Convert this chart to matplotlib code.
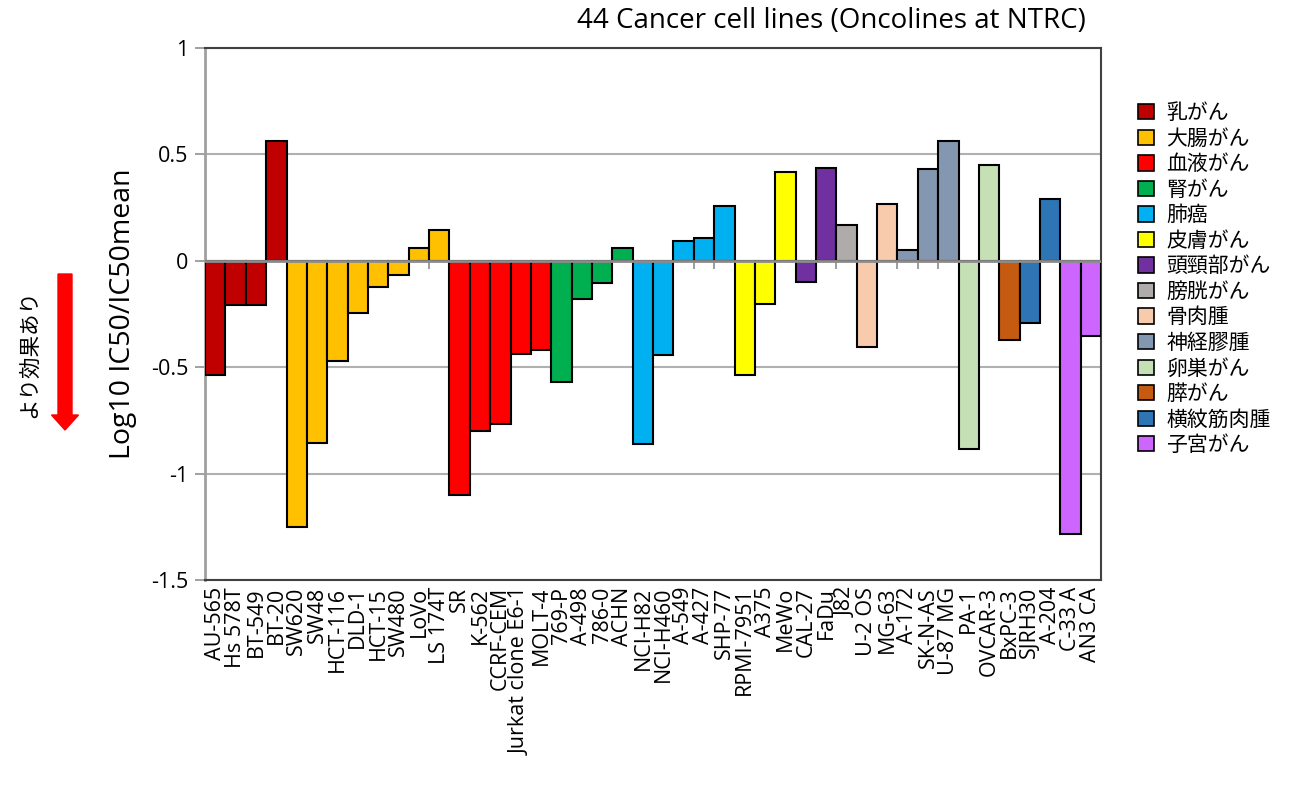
import numpy as np
import matplotlib
matplotlib.use('Agg')
import matplotlib.pyplot as plt
from matplotlib.patches import Patch, FancyArrow
from matplotlib.transforms import IdentityTransform

plt.rcParams['font.family'] = ['Open Sans', 'Noto Sans CJK JP', 'DejaVu Sans']
JP = ['Noto Sans CJK JP', 'DejaVu Sans']

# cancer types, colours, and how many cell lines each has (in plot order)
cancer_types = ['乳がん', '大腸がん', '血液がん', '腎がん', '肺癌', '皮膚がん', '頭頸部がん',
                '膀胱がん', '骨肉腫', '神経膠腫', '卵巣がん', '膵がん', '横紋筋肉腫', '子宮がん']
type_colors = ['#C00000', '#FFC000', '#FF0000', '#00B050', '#00B0F0', '#FFFF00', '#7030A0',
               '#AFABAB', '#F8CBAD', '#8497B0', '#C5E0B4', '#C55A11', '#2E75B6', '#CC66FF']
type_counts = [4, 8, 5, 4, 5, 3, 2, 1, 2, 3, 2, 1, 2, 2]

cell_lines = ['AU-565', 'Hs 578T', 'BT-549', 'BT-20',
              'SW620', 'SW48', 'HCT-116', 'DLD-1', 'HCT-15', 'SW480', 'LoVo', 'LS 174T',
              'SR', 'K-562', 'CCRF-CEM', 'Jurkat clone E6-1', 'MOLT-4',
              '769-P', 'A-498', '786-0', 'ACHN',
              'NCI-H82', 'NCI-H460', 'A-549', 'A-427', 'SHP-77',
              'RPMI-7951', 'A375', 'MeWo',
              'CAL-27', 'FaDu',
              'J82',
              'U-2 OS', 'MG-63',
              'A-172', 'SK-N-AS', 'U-87 MG',
              'PA-1', 'OVCAR-3',
              'BxPC-3',
              'SJRH30', 'A-204',
              'C-33 A', 'AN3 CA']

log_ratio = [-0.535, -0.21, -0.21, 0.563,
             -1.25, -0.855, -0.472, -0.247, -0.125, -0.069, 0.058, 0.147,
             -1.10, -0.80, -0.767, -0.44, -0.421,
             -0.57, -0.18, -0.105, 0.06,
             -0.861, -0.441, 0.094, 0.105, 0.258,
             -0.535, -0.203, 0.416,
             -0.099, 0.437,
             0.169,
             -0.405, 0.268,
             0.05, 0.433, 0.563,
             -0.884, 0.448,
             -0.374,
             -0.293, 0.288,
             -1.286, -0.354]

bar_colors = np.repeat(type_colors, type_counts)
x = np.arange(len(cell_lines))

fig = plt.figure(figsize=(13.02, 7.85), dpi=100)
ax = fig.add_axes([0.1575, 0.2611, 0.6882, 0.6778])

ax.bar(x, log_ratio, width=1.0, color=bar_colors, edgecolor='black', linewidth=1.5, zorder=3)

ax.set_xlim(-0.5, len(x) - 0.5)
ax.set_ylim(-1.5, 1)
ax.set_yticks([1, 0.5, 0, -0.5, -1, -1.5])
ax.set_yticklabels(['1', '0.5', '0', '-0.5', '-1', '-1.5'], fontsize=15.5)
ax.yaxis.grid(True, color='#b0b0b0', linewidth=1.5, zorder=0)
ax.tick_params(axis='y', direction='out', length=7, color='#909090', width=1.2, pad=5)

# category axis sits on zero, labels stay at the bottom
ax.axhline(0, color='#8c8c8c', linewidth=2, zorder=4)
ax.vlines(np.arange(len(x) + 1) - 0.5, -0.04, 0, color='#8c8c8c', linewidth=1.2, zorder=2)
ax.set_xticks(x)
ax.set_xticklabels(cell_lines, rotation=90, fontsize=15.5)
ax.tick_params(axis='x', length=0, pad=5)

for side in ['right', 'top', 'bottom']:
    ax.spines[side].set_color('#404040')
    ax.spines[side].set_linewidth(1.5)
ax.spines['left'].set_color('#a0a0a0')
ax.spines['left'].set_linewidth(2)

ax.set_ylabel('Log10 IC50/IC50mean', fontsize=20.5, labelpad=10)
fig.text(0.834, 0.973, '44 Cancer cell lines (Oncolines at NTRC)', fontsize=20,
         ha='right', va='center')

handles = [Patch(facecolor=c, edgecolor='black', linewidth=1.2) for c in type_colors]
ax.legend(handles, cancer_types, loc='upper left', bbox_to_anchor=(1.032, 0.914),
          frameon=False, prop={'family': JP, 'size': 15}, handlelength=0.75,
          handleheight=0.75, labelspacing=0.17, handletextpad=0.6, borderaxespad=0)

# "more effective" arrow on the far left
fig.patches.append(FancyArrow(65, 785 - 274, 0, -(430 - 274), width=14, head_width=27,
                              head_length=15, length_includes_head=True,
                              color='#FF0000', transform=IdentityTransform()))
fig.text(29 / 1302, 1 - 354 / 785, 'より効果あり', rotation=90, fontsize=15.5,
         family=JP, ha='center', va='center')

fig.savefig('out.png', dpi=100)
